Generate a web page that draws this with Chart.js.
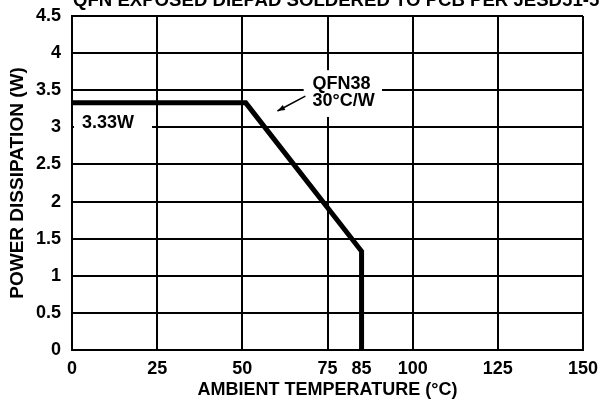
<!DOCTYPE html>
<html>
<head>
<meta charset="utf-8">
<script src="https://cdn.jsdelivr.net/npm/chart.js@4"></script>
<style>
  html, body { margin: 0; padding: 0; background: #fff; }
  #wrap { width: 602px; height: 402px; }
</style>
</head>
<body>
<div id="wrap"><canvas id="derating"></canvas></div>
<script>
const temps = [0, 51, 85, 85];
const powerW = [3.33, 3.33, 1.33, 0];
const xTicks = [0, 25, 50, 75, 85, 100, 125, 150];
const yTicks = [0, 0.5, 1, 1.5, 2, 2.5, 3, 3.5, 4, 4.5];
const titleText = "QFN EXPOSED DIEPAD SOLDERED TO PCB PER JESD51-5";
const xTitle = "AMBIENT TEMPERATURE (°C)";
const yTitle = "POWER DISSIPATION (W)";
const ratingLabel = "3.33W";
const packageLabel = ["QFN38", "30°C/W"];

const fontFamily = "'Liberation Sans', Arial, sans-serif";
const boldFont = { family: fontFamily, size: 18, weight: "bold" };

const annotations = {
  id: "annotations",
  afterDatasetsDraw(chart) {
    const { ctx, scales: { x, y } } = chart;
    ctx.save();
    ctx.font = "bold 18px " + fontFamily;
    ctx.textBaseline = "middle";
    ctx.textAlign = "left";

    // 3.33W label, white box over the 3 W grid line
    const bx0 = x.getPixelForValue(0) + 2;
    ctx.fillStyle = "#fff";
    ctx.fillRect(bx0, y.getPixelForValue(3.22), x.getPixelForValue(23.5) - bx0, y.getPixelForValue(2.9) - y.getPixelForValue(3.22));
    ctx.fillStyle = "#000";
    ctx.fillText(ratingLabel, x.getPixelForValue(2.9), y.getPixelForValue(3.06));

    // package label
    ctx.fillStyle = "#fff";
    ctx.fillRect(x.getPixelForValue(68), y.getPixelForValue(3.77), x.getPixelForValue(91) - x.getPixelForValue(68), y.getPixelForValue(3.14) - y.getPixelForValue(3.77));
    ctx.fillStyle = "#000";
    ctx.fillText(packageLabel[0], x.getPixelForValue(70.6), y.getPixelForValue(3.58));
    ctx.fillText(packageLabel[1], x.getPixelForValue(70.6), y.getPixelForValue(3.36));

    // arrow
    const x1 = x.getPixelForValue(68.5), y1 = y.getPixelForValue(3.42);
    const x2 = x.getPixelForValue(60.3), y2 = y.getPixelForValue(3.22);
    ctx.strokeStyle = "#000";
    ctx.lineWidth = 1.5;
    ctx.beginPath();
    ctx.moveTo(x1, y1);
    ctx.lineTo(x2, y2);
    ctx.stroke();
    const ang = Math.atan2(y2 - y1, x2 - x1);
    ctx.beginPath();
    ctx.moveTo(x2, y2);
    ctx.lineTo(x2 - 8 * Math.cos(ang - 0.35), y2 - 8 * Math.sin(ang - 0.35));
    ctx.lineTo(x2 - 8 * Math.cos(ang + 0.35), y2 - 8 * Math.sin(ang + 0.35));
    ctx.closePath();
    ctx.fill();

    // title, cut off at the top edge
    ctx.font = "bold 18.6px " + fontFamily;
    ctx.textBaseline = "alphabetic";
    ctx.fillText(titleText, 73, 6);
    ctx.restore();
  },
};

new Chart(document.getElementById("derating"), {
  type: "line",
  data: {
    datasets: [
      {
        data: temps.map((t, i) => ({ x: t, y: powerW[i] })),
        borderColor: "#000",
        borderWidth: 5,
        pointRadius: 0,
        tension: 0,
        fill: false,
        borderCapStyle: "butt",
        borderJoinStyle: "miter",
      },
    ],
  },
  options: {
    responsive: true,
    maintainAspectRatio: false,
    animation: false,
    layout: { padding: { left: 0, right: 19, top: 16, bottom: 0 } },
    plugins: { legend: { display: false }, tooltip: { enabled: false } },
    scales: {
      x: {
        type: "linear",
        min: 0,
        max: 150,
        afterBuildTicks: (scale) => {
          scale.ticks = xTicks.map((v) => ({ value: v }));
        },
        afterFit: (scale) => {
          scale.height = 52;
          scale.paddingLeft = 0;
          scale.paddingRight = 0;
        },
        grid: {
          color: (c) => (c.tick && c.tick.value === 85 ? "rgba(0,0,0,0)" : "#000"),
          lineWidth: 2,
          drawTicks: false,
        },
        border: { display: true, color: "#000", width: 2 },
        ticks: {
          color: "#000",
          font: boldFont,
          padding: 8,
          autoSkip: false,
          maxRotation: 0,
          callback: (v) => String(v),
        },
        title: {
          display: true,
          text: xTitle,
          color: "#000",
          font: boldFont,
          padding: { top: 0, bottom: 1 },
        },
      },
      y: {
        min: 0,
        max: 4.5,
        afterBuildTicks: (scale) => {
          scale.ticks = yTicks.map((v) => ({ value: v }));
        },
        afterFit: (scale) => {
          scale.width = 72;
          scale.paddingTop = 0;
          scale.paddingBottom = 0;
        },
        grid: { color: "#000", lineWidth: 2, drawTicks: false },
        border: { display: true, color: "#000", width: 2 },
        ticks: {
          color: "#000",
          font: boldFont,
          padding: 11,
          callback: (v) => String(v),
        },
        title: {
          display: true,
          text: yTitle,
          color: "#000",
          font: { family: fontFamily, size: 19, weight: "bold" },
          padding: { top: 6, bottom: 0 },
        },
      },
    },
  },
  plugins: [annotations],
});
</script>
</body>
</html>
